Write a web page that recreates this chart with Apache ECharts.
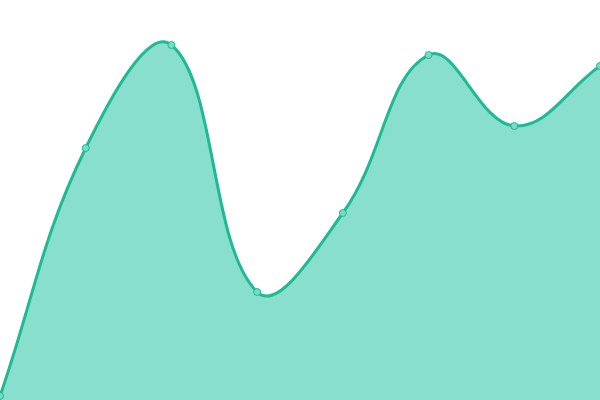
<!DOCTYPE html>
<html>
<head>
<meta charset="utf-8">
<script src="https://cdn.jsdelivr.net/npm/echarts@6/dist/echarts.min.js"></script>
<style>
  html, body { margin: 0; padding: 0; background: #fff; }
  #main { width: 600px; height: 400px; }
</style>
</head>
<body>
<div id="main"></div>
<script>
// chart data
var categories = ['1', '2', '3', '4', '5', '6', '7', '8'];
var values = [4, 252, 355, 108, 187, 345, 274, 334];

var TENSION = 0.4;

// cardinal-like spline through the points (overshoots like the reference)
function splinePath(pts, rect) {
    var cps = [];
    for (var i = 0; i < pts.length; i++) {
        var prev = pts[i - 1] || pts[i];
        var cur = pts[i];
        var next = pts[i + 1] || pts[i];
        var d01 = Math.hypot(cur[0] - prev[0], cur[1] - prev[1]);
        var d12 = Math.hypot(next[0] - cur[0], next[1] - cur[1]);
        var s = d01 + d12 || 1;
        var fa = TENSION * d01 / s;
        var fb = TENSION * d12 / s;
        var vx = next[0] - prev[0], vy = next[1] - prev[1];
        var p = [cur[0] - fa * vx, cur[1] - fa * vy];
        var n = [cur[0] + fb * vx, cur[1] + fb * vy];
        [p, n].forEach(function(c) {
            c[0] = Math.min(Math.max(c[0], rect.x), rect.x + rect.width);
            c[1] = Math.min(Math.max(c[1], rect.y), rect.y + rect.height);
        });
        cps.push({ prev: p, next: n });
    }
    var d = 'M' + pts[0][0] + ' ' + pts[0][1];
    for (var j = 1; j < pts.length; j++) {
        var a = cps[j - 1].next, b = cps[j].prev;
        d += ' C' + a[0] + ' ' + a[1] + ' ' + b[0] + ' ' + b[1] + ' ' + pts[j][0] + ' ' + pts[j][1];
    }
    return d;
}

var myChart = echarts.init(document.getElementById('main'));

var option = {
    animation: false,
    grid: { left: 0, right: 0, top: 0, bottom: 0 },
    xAxis: {
        type: 'category',
        boundaryGap: false,
        data: categories,
        show: false
    },
    yAxis: {
        type: 'value',
        min: 0,
        max: 400,
        show: false
    },
    series: [{
        type: 'custom',
        data: values.map(function(v, i) { return [i, v]; }),
        encode: { x: 0, y: 1 },
        clip: false,
        renderItem: function(params, api) {
            if (params.dataIndex !== 0) return null;
            var pts = values.map(function(v, i) { return api.coord([i, v]); });
            var base = api.coord([0, 0])[1];
            var line = splinePath(pts, params.coordSys);
            var area = line + ' L' + pts[pts.length - 1][0] + ' ' + base + ' L' + pts[0][0] + ' ' + base + ' Z';
            return {
                type: 'group',
                children: [{
                    type: 'path',
                    shape: { pathData: area },
                    style: { fill: '#88dfce', stroke: null }
                }, {
                    type: 'path',
                    shape: { pathData: line },
                    style: { fill: null, stroke: '#1fb992', lineWidth: 3 }
                }]
            };
        }
    }, {
        type: 'line',
        data: values,
        z: 3,
        symbol: 'circle',
        symbolSize: 7,
        lineStyle: { opacity: 0 },
        itemStyle: { color: '#7adbc4', borderColor: '#1fb992', borderWidth: 1 }
    }]
};

myChart.setOption(option);
</script>
</body>
</html>
